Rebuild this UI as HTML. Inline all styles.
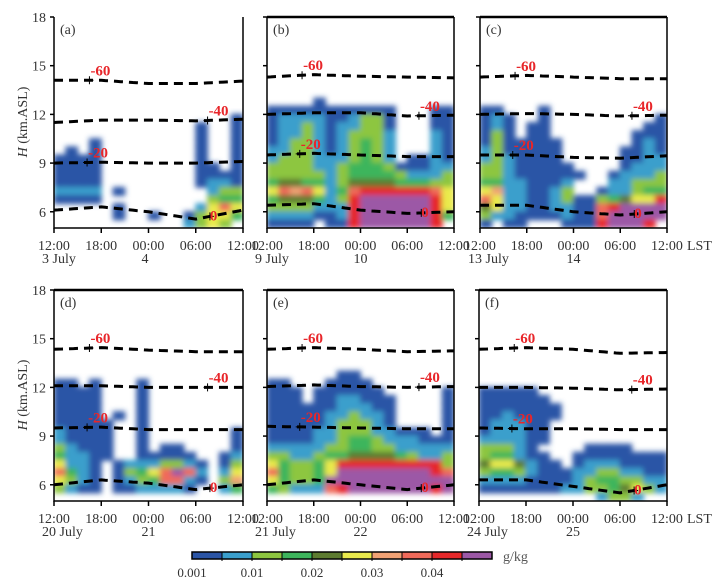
<!DOCTYPE html>
<html><head><meta charset="utf-8"><style>
body{margin:0;background:#fff;}
svg{display:block;font-family:"Liberation Serif",serif;}
</style></head><body>
<svg id="chart" width="713" height="588" viewBox="0 0 713 588">
<defs><filter id="sm" x="-5%" y="-5%" width="110%" height="110%"><feGaussianBlur stdDeviation="2.6"/></filter></defs>
</svg>
<script>
// ---- data ----
const levelColors = {"1":"#2b55a6","2":"#3a9fcc","3":"#8dc640","4":"#3db55c","5":"#5d7b30","6":"#eaea4c","7":"#f2a274","8":"#f06a5a","9":"#e6282a","p":"#9c58a6"};
const colorbarLevels = ["1","2","3","4","5","6","7","8","9","p"];
const colorbarTicks = ["0.001","0.01","0.02","0.03","0.04"];
const yTicks = [18,15,12,9,6];
const xTickLabels = ["12:00","18:00","00:00","06:00","12:00"];
// grid rows: from 12.5-13 km (top) down to 5-5.5 km, columns of 1.5 h from 12:00
const gridA = ["................","................","...............1","............1..1","............1..1","...1........1..1",".1.1........1..1","1111........1..1","1111........11.1","1111........1111","1111........1221","2222.1.......233","1111.........344",".....1......2686",".....1..1..13664","...........2363."];
const gridB = ["....1...........","11111111111...11","12222112331...11","12232122331...11","12232123332...21","12332123432...21","22332123432...21","23332223432.1121","3333223444311122","3333323444432223","4554423555544433","6878624899999986","45554239pppppp96","33332229pppppp96","22221129pppppp94","1111.119pppppp9."];
const gridC = ["................","11...1..........","121..1.........1","121.11........11","131.11.......111","1311111......121","2311111.....1121","2321111.....1122","33211111....1222","332111111..12223","44221112...22333","67221123..122344","8622112311345669","562211221189pppp","32211112118ppppp","1.11...1119ppp9."];
const gridD = ["................","11.1...1........","1111...1........","1111...1........","1111...1........","1111.1.1........","11111..1........","21111..1.......1","21111..1.......1","32111..1.11....1","42211..11111..12","6221.12223321.13","8421.13468p82.26","6321.12348821.37","3211.1122221..24","................"];
const gridE = ["......11........","11...1111.......","111.111111.....1","111.1122111....1","11111122211....1","11111223221....1","11111233321....1","11112233322111.1","1111223443222111","2222233443322222","3322344555543223","6433469999999993","843346pppppppp98","64334ppppppppppp","4322289ppppppp9p","................"];
const gridF = ["................","................","11111...........","111111..........","1111111.........","1121111.........","122211..........","122211..........","222211..........","33321....1111...","344211..11111111","5665211.12221111","3443211122332211","2222111123443322","1111111223345632","..........2332.."];
// isotherm heights (km) at 0,6,12,18,24 h after 12:00
const isoTimes = [0,6,12,18,24];
const isoA = {m60:[14.1,14.1,13.9,13.9,14.05], m40:[11.5,11.65,11.65,11.6,11.7], m20:[9.0,9.05,9.0,9.0,9.1], z:[6.1,6.3,6.0,5.55,6.1]};
const isoB = {m60:[14.3,14.45,14.35,14.3,14.25], m40:[12.0,12.1,12.1,11.9,11.95], m20:[9.5,9.6,9.5,9.4,9.4], z:[6.4,6.5,6.1,5.9,6.0]};
const isoC = {m60:[14.3,14.4,14.3,14.2,14.2], m40:[12.0,12.05,12.0,11.9,11.95], m20:[9.5,9.5,9.35,9.3,9.45], z:[6.4,6.4,6.0,5.8,6.0]};
const isoD = {m60:[14.35,14.45,14.3,14.2,14.2], m40:[12.1,12.1,12.0,12.0,12.0], m20:[9.5,9.55,9.4,9.4,9.4], z:[6.0,6.3,6.1,5.7,6.0]};
const isoE = {m60:[14.35,14.45,14.35,14.2,14.25], m40:[12.05,12.15,12.05,12.0,12.05], m20:[9.6,9.55,9.5,9.45,9.45], z:[6.0,6.3,6.0,5.7,6.0]};
const isoF = {m60:[14.35,14.45,14.35,14.1,14.15], m40:[12.0,12.0,11.95,11.85,11.9], m20:[9.5,9.45,9.45,9.4,9.4], z:[6.3,6.3,5.9,5.5,6.0]};
const isoLabels = {m60:"-60", m40:"-40", m20:"-20", z:"0"};
const isoLabelTime = {m60:4.5, m40:19.5, m20:4.2, z:19.8};

const panels = [
 {id:"a",x0:54,x1:243,top:17,grid:gridA,iso:isoA,d1:"3 July",d2:"4",yl:true,lst:false,topLine:false},
 {id:"b",x0:267,x1:454,top:17,grid:gridB,iso:isoB,d1:"9 July",d2:"10",yl:false,lst:false,topLine:true},
 {id:"c",x0:480,x1:667,top:17,grid:gridC,iso:isoC,d1:"13 July",d2:"14",yl:false,lst:true,topLine:true},
 {id:"d",x0:54,x1:243,top:290,grid:gridD,iso:isoD,d1:"20 July",d2:"21",yl:true,lst:false,topLine:true},
 {id:"e",x0:267,x1:454,top:290,grid:gridE,iso:isoE,d1:"21 July",d2:"22",yl:false,lst:false,topLine:true},
 {id:"f",x0:479,x1:667,top:290,grid:gridF,iso:isoF,d1:"24 July",d2:"25",yl:false,lst:true,topLine:true}
];
const NS="http://www.w3.org/2000/svg";
const svg=document.getElementById('chart');
function mk(tag,attrs,parent){const e=document.createElementNS(NS,tag);for(const k in attrs)e.setAttribute(k,attrs[k]);(parent||svg).appendChild(e);return e;}

panels.forEach(p=>{
  const bottom=p.top+211;
  const ys=h=>bottom-(h-5)*(211/13);
  const xs=t=>p.x0+t*(p.x1-p.x0)/24;
  const g=mk('g',{});
  
  
  const cp=mk('clipPath',{id:'cp'+p.id},g);
  mk('rect',{x:p.x0,y:p.top,width:p.x1-p.x0,height:bottom-p.top},cp);
  const field=mk('g',{'clip-path':'url(#cp'+p.id+')'},g);
  const inner=mk('g',{filter:'url(#sm)'},field);
  
  
  p.grid.forEach((row,ri)=>{
    const hTop=13-0.5*ri, hBot=hTop-0.5;
    for(let ci=0;ci<row.length;ci++){
      const c=row[ci]; if(c==='.')continue;
      const r=mk('rect',{x:xs(ci*1.5)-0.5,y:ys(hTop)-0.5,width:xs(1.5)-p.x0+1,height:ys(hBot)-ys(hTop)+1,fill:levelColors[c]},inner);
      
      
    }
  });
  Object.keys(p.iso).forEach(k=>{
    const v=p.iso[k];
    let d='';
    for(let i=0;i<=48;i++){const t=i*0.5;let j=Math.min(3,Math.floor(t/6));const f=(t-isoTimes[j])/6;const h=v[j]+(v[j+1]-v[j])*f;d+=(i?'L':'M')+xs(t).toFixed(1)+','+ys(h).toFixed(1);}
    const pl=mk('path',{d:d,fill:'none',stroke:'#000','stroke-width':3,'stroke-dasharray':'9,6'},g);
    
    
    const lt=isoLabelTime[k];const j=Math.min(3,Math.floor(lt/6));const lh=v[j]+(v[j+1]-v[j])*(lt-isoTimes[j])/6;
    mk('path',{d:`M${xs(lt)-4},${ys(lh)}h8M${xs(lt)},${ys(lh)-4}v8`,stroke:'#000','stroke-width':1},g);
    const tx=mk('text',{x:xs(lt)+(k==='z'?0:1),y:ys(lh)-(k==='z'?-4:5),fill:'#e8262a','font-size':15,'font-weight':'bold'},g);
    tx.textContent=isoLabels[k];
    
    
  });
  mk('path',{d:`M${p.x0},${p.top}V${bottom}H${p.x1}V${p.top}`,fill:'none',stroke:'#000','stroke-width':1.5},g);
  if(p.topLine) mk('line',{x1:p.x0,y1:p.top,x2:p.x1,y2:p.top,stroke:'#000','stroke-width':2.5},g);
  yTicks.forEach(h=>{
    mk('line',{x1:p.x0-4,y1:ys(h),x2:p.x0,y2:ys(h),stroke:'#000','stroke-width':1.5},g);
    if(p.yl){const t=mk('text',{x:p.x0-8,y:ys(h)+5,'text-anchor':'end','font-size':14,fill:'#333'},g);t.textContent=h;
      
      }
  });
  xTickLabels.forEach((lab,i)=>{
    const x=xs(i*6);
    mk('line',{x1:x,y1:bottom,x2:x,y2:bottom+5,stroke:'#000','stroke-width':1.5},g);
    const t=mk('text',{x:x,y:bottom+22,'text-anchor':'middle','font-size':14,fill:'#333'},g);t.textContent=lab;
    
    
  });
  const t1=mk('text',{x:p.x0-12,y:bottom+35,'font-size':14,fill:'#333'},g);t1.textContent=p.d1;
  
  
  const t2=mk('text',{x:xs(12)-7,y:bottom+35,'font-size':14,fill:'#333'},g);t2.textContent=p.d2;
  
  
  if(p.lst){const t=mk('text',{x:p.x1+20,y:bottom+22,'font-size':14,fill:'#333'},g);t.textContent='LST';
    
    }
  const pl=mk('text',{x:p.x0+6,y:p.top+17,'font-size':14,fill:'#333'},g);pl.textContent='('+p.id+')';
  
  
  if(p.yl){const yt=mk('text',{x:0,y:0,transform:`translate(27,${p.top+105}) rotate(-90)`,'text-anchor':'middle','font-size':14,fill:'#333'},g);
    yt.innerHTML='<tspan font-style="italic">H</tspan> (km.ASL)';
    
    }
});
const cb=mk('g',{});


const cbx0=192,cbw=300,cby=552,cbh=7,sw=cbw/colorbarLevels.length;
colorbarLevels.forEach((c,i)=>{
  const r=mk('rect',{x:cbx0+i*sw,y:cby,width:sw,height:cbh,fill:levelColors[c]},cb);
  
  
  if(i>0) mk('line',{x1:cbx0+i*sw,y1:cby,x2:cbx0+i*sw,y2:cby+cbh+2,stroke:'#000','stroke-width':1},cb);
});
mk('rect',{x:cbx0,y:cby,width:cbw,height:cbh,fill:'none',stroke:'#000','stroke-width':1.5},cb);
colorbarTicks.forEach((lab,i)=>{
  const t=mk('text',{x:cbx0+i*2*sw,y:cby+25,'text-anchor':'middle','font-size':13,fill:'#333'},cb);t.textContent=lab;
  
  
});
const u=mk('text',{x:503,y:cby+9,'font-size':14,fill:'#555'},cb);u.textContent='g/kg';


</script>
</body></html>
